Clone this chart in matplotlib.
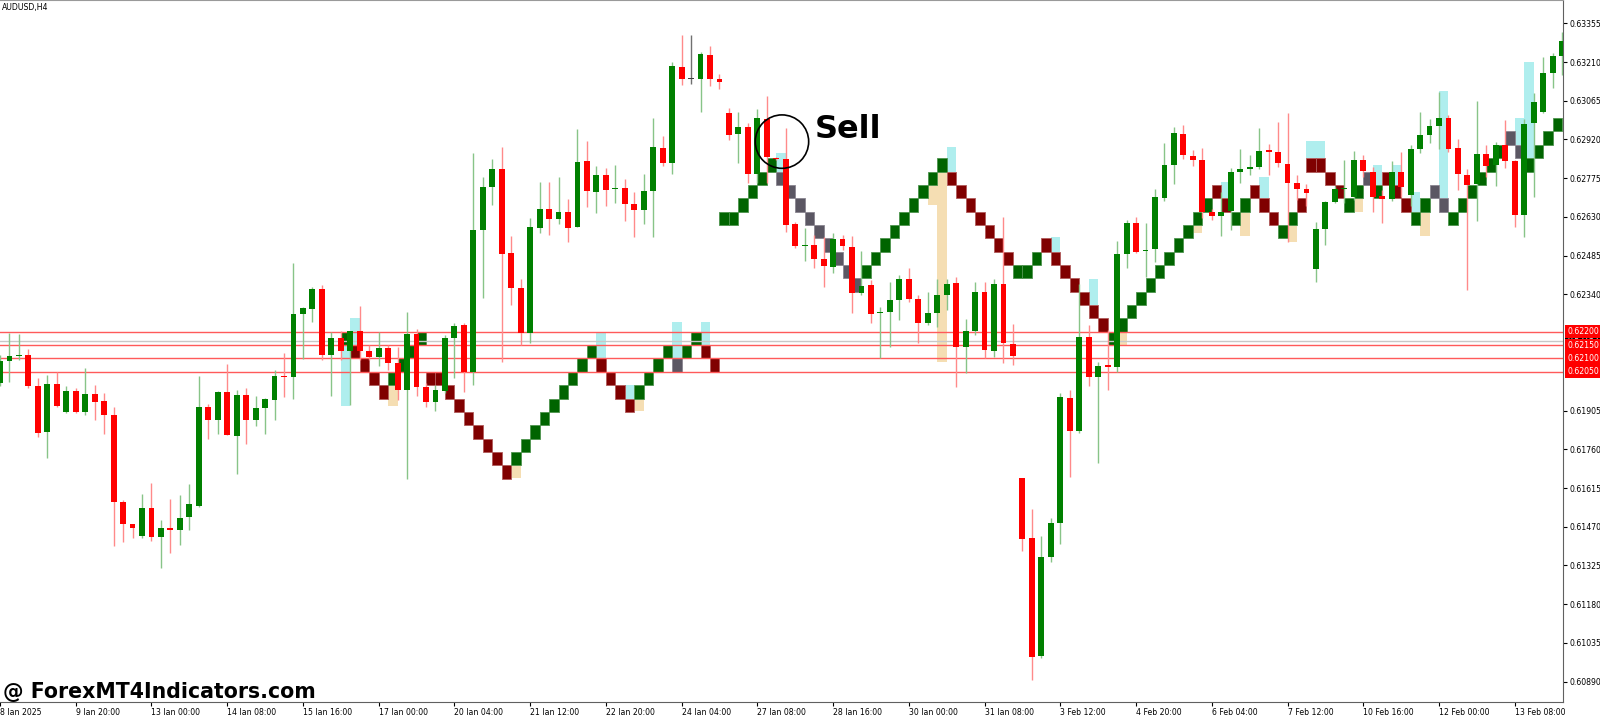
import matplotlib
matplotlib.use("Agg")
import matplotlib.pyplot as plt
from matplotlib.patches import Rectangle, Ellipse
from matplotlib.transforms import blended_transform_factory

# ---------------- data ----------------
opens = [0.62008,0.62091,0.62109,0.62113,0.61997,0.61825,0.62005,0.61900,0.61978,0.61900,
         0.61967,0.61941,0.61888,0.61563,0.61480,0.61435,0.61540,0.61432,0.61465,0.61458,
         0.61507,0.61548,0.61918,0.61870,0.61975,0.61810,0.61963,0.61870,0.61915,0.61945,
         0.62035,0.62031,0.62267,0.62285,0.62360,0.62113,0.62177,0.62128,0.62203,0.62128,
         0.62106,0.62139,0.62083,0.61982,0.62192,0.61993,0.61937,0.61978,0.62177,0.62225,
         0.62049,0.62581,0.62742,0.62810,0.62495,0.62364,0.62195,0.62589,0.62660,0.62622,
         0.62649,0.62592,0.62839,0.62723,0.62787,0.62735,0.62738,0.62678,0.62656,0.62727,
         0.62888,0.62832,0.63191,0.63146,0.63146,0.63236,0.63146,0.63019,0.62941,0.62967,
         0.62791,0.62997,0.62851,0.62847,0.62604,0.62521,0.62525,0.62473,0.62443,0.62547,
         0.62517,0.62345,0.62375,0.62270,0.62274,0.62319,0.62398,0.62323,0.62233,0.62270,
         0.62338,0.62383,0.62143,0.62203,0.62349,0.62128,0.62379,0.62154,0.61653,0.61428,
         0.60986,0.61357,0.61484,0.61952,0.61829,0.62181,0.62031,0.62076,0.62068,0.62491,
         0.62607,0.62502,0.62510,0.62701,0.62824,0.62941,0.62858,0.62843,0.62649,0.62634,
         0.62652,0.62798,0.62810,0.62817,0.62881,0.62873,0.62828,0.62757,0.62735,0.62435,
         0.62585,0.62686,0.62735,0.62705,0.62843,0.62798,0.62708,0.62697,0.62798,0.62712,
         0.62884,0.62937,0.62971,0.63000,0.62888,0.62787,0.62753,0.62866,0.62824,0.62899,
         0.62839,0.62637,0.62982,0.63023,0.63169,0.63233]
highs = [0.62113,0.62195,0.62192,0.62136,0.62027,0.62038,0.62049,0.61997,0.61990,0.62064,
         0.62001,0.61971,0.61918,0.61570,0.61480,0.61593,0.61634,0.61495,0.61574,0.61589,
         0.61630,0.62035,0.61930,0.61978,0.62079,0.61982,0.61990,0.61960,0.61952,0.62057,
         0.62121,0.62458,0.62293,0.62368,0.62375,0.62199,0.62203,0.62203,0.62297,0.62151,
         0.62199,0.62151,0.62143,0.62274,0.62210,0.62008,0.62001,0.62188,0.62233,0.62233,
         0.62869,0.62780,0.62847,0.62892,0.62559,0.62398,0.62626,0.62761,0.62761,0.62780,
         0.62697,0.62959,0.62914,0.62821,0.62813,0.62824,0.62772,0.62723,0.62791,0.63000,
         0.62933,0.63210,0.63311,0.63311,0.63248,0.63270,0.63165,0.63038,0.63023,0.62982,
         0.63034,0.63083,0.62854,0.62963,0.62611,0.62589,0.62562,0.62555,0.62570,0.62562,
         0.62559,0.62502,0.62394,0.62293,0.62386,0.62413,0.62439,0.62338,0.62349,0.62398,
         0.62398,0.62405,0.62248,0.62386,0.62386,0.62398,0.62630,0.62229,0.61653,0.61537,
         0.61435,0.61503,0.61971,0.61982,0.62379,0.62225,0.62087,0.62207,0.62540,0.62619,
         0.62630,0.62607,0.62735,0.62907,0.62967,0.62974,0.62881,0.62888,0.62660,0.62723,
         0.62813,0.62884,0.62862,0.62963,0.62903,0.62985,0.63019,0.62787,0.62753,0.62611,
         0.62690,0.62746,0.62843,0.62877,0.62862,0.62817,0.62731,0.62839,0.62873,0.62899,
         0.63023,0.62997,0.63098,0.63012,0.62922,0.62810,0.63064,0.62899,0.62911,0.62993,
         0.62843,0.62997,0.63094,0.63229,0.63244,0.63322]
lows = [0.61997,0.62012,0.62094,0.61990,0.61806,0.61727,0.61918,0.61896,0.61896,0.61888,
        0.61870,0.61817,0.61398,0.61413,0.61428,0.61428,0.61417,0.61316,0.61372,0.61402,
        0.61458,0.61544,0.61799,0.61817,0.61814,0.61668,0.61780,0.61847,0.61817,0.61870,
        0.61956,0.61948,0.62098,0.62237,0.62094,0.61960,0.62094,0.61926,0.62094,0.62094,
        0.62072,0.62057,0.61945,0.61649,0.61960,0.61918,0.61903,0.61971,0.62027,0.61975,
        0.62001,0.62327,0.62675,0.62087,0.62300,0.62151,0.62158,0.62570,0.62562,0.62604,
        0.62536,0.62592,0.62667,0.62645,0.62671,0.62682,0.62615,0.62555,0.62604,0.62555,
        0.62821,0.62791,0.63124,0.63128,0.63023,0.63120,0.63109,0.62918,0.62832,0.62757,
        0.62757,0.62757,0.62843,0.62574,0.62514,0.62465,0.62439,0.62368,0.62420,0.62506,
        0.62270,0.62338,0.62233,0.62102,0.62143,0.62244,0.62312,0.62158,0.62225,0.62218,
        0.62282,0.61993,0.62046,0.62188,0.62102,0.62106,0.62083,0.62076,0.61379,0.60896,
        0.60979,0.61338,0.61406,0.61656,0.61821,0.61997,0.61709,0.61982,0.62049,0.62439,
        0.62495,0.62405,0.62461,0.62690,0.62753,0.62847,0.62821,0.62626,0.62619,0.62559,
        0.62581,0.62757,0.62787,0.62810,0.62787,0.62817,0.62536,0.62693,0.62671,0.62386,
        0.62525,0.62682,0.62682,0.62693,0.62780,0.62649,0.62607,0.62690,0.62705,0.62671,
        0.62869,0.62907,0.62884,0.62873,0.62731,0.62356,0.62615,0.62780,0.62746,0.62813,
        0.62592,0.62555,0.62705,0.63019,0.63113,0.63161]
closes = [0.62091,0.62109,0.62113,0.61997,0.61821,0.62005,0.61922,0.61978,0.61900,0.61967,
          0.61937,0.61888,0.61563,0.61480,0.61465,0.61540,0.61432,0.61465,0.61458,0.61503,
          0.61555,0.61918,0.61870,0.61975,0.61814,0.61963,0.61870,0.61915,0.61948,0.62035,
          0.62031,0.62267,0.62289,0.62360,0.62113,0.62177,0.62128,0.62203,0.62128,0.62106,
          0.62139,0.62083,0.61982,0.62192,0.61993,0.61937,0.61982,0.62177,0.62222,0.62049,
          0.62581,0.62742,0.62810,0.62491,0.62364,0.62195,0.62592,0.62660,0.62622,0.62649,
          0.62589,0.62836,0.62727,0.62787,0.62731,0.62738,0.62678,0.62656,0.62727,0.62892,
          0.62832,0.63195,0.63146,0.63146,0.63240,0.63146,0.63135,0.62937,0.62967,0.62791,
          0.63000,0.62854,0.62847,0.62600,0.62521,0.62523,0.62473,0.62446,0.62547,0.62521,
          0.62345,0.62371,0.62267,0.62274,0.62319,0.62398,0.62323,0.62233,0.62270,0.62338,
          0.62379,0.62143,0.62203,0.62349,0.62132,0.62379,0.62158,0.62109,0.61424,0.60982,
          0.61357,0.61484,0.61956,0.61829,0.62181,0.62031,0.62072,0.62068,0.62491,0.62607,
          0.62499,0.62506,0.62705,0.62824,0.62944,0.62862,0.62843,0.62649,0.62634,0.62649,
          0.62798,0.62810,0.62817,0.62877,0.62873,0.62832,0.62757,0.62735,0.62720,0.62585,
          0.62686,0.62735,0.62738,0.62843,0.62802,0.62705,0.62697,0.62798,0.62742,0.62884,
          0.62937,0.62971,0.63000,0.62884,0.62791,0.62750,0.62866,0.62821,0.62899,0.62839,
          0.62637,0.62978,0.63060,0.63169,0.63233,0.63289]

time_labels = ["8 Jan 2025", "9 Jan 20:00", "13 Jan 00:00", "14 Jan 08:00", "15 Jan 16:00",
               "17 Jan 00:00", "20 Jan 04:00", "21 Jan 12:00", "22 Jan 20:00", "24 Jan 04:00",
               "27 Jan 08:00", "28 Jan 16:00", "30 Jan 00:00", "31 Jan 08:00", "3 Feb 12:00",
               "4 Feb 20:00", "6 Feb 04:00", "7 Feb 12:00", "10 Feb 16:00", "12 Feb 00:00",
               "13 Feb 08:00"]
price_ticks = [0.63355, 0.63210, 0.63065, 0.62920, 0.62775, 0.62630, 0.62485, 0.62340,
               0.61905, 0.61760, 0.61615, 0.61470, 0.61325, 0.61180, 0.61035, 0.60890]

# renko bricks: bar index, brick low, kind (U up, D down, G weak down)
brick_idx = list(range(36, 166))
brick_low = [0.6215,0.6210,0.6205,0.6200,0.6195,0.6200,0.6205,0.6210,0.6215,0.6200,
             0.6200,0.6195,0.6190,0.6185,0.6180,0.6175,0.6170,0.6165,0.6170,0.6175,
             0.6180,0.6185,0.6190,0.6195,0.6200,0.6205,0.6210,0.6205,0.6200,0.6195,
             0.6190,0.6195,0.6200,0.6205,0.6210,0.6205,0.6210,0.6215,0.6210,0.6205,
             0.6260,0.6260,0.6265,0.6270,0.6275,0.6280,0.6275,0.6270,0.6265,0.6260,
             0.6255,0.6250,0.6245,0.6240,0.6235,0.6240,0.6245,0.6250,0.6255,0.6260,
             0.6265,0.6270,0.6275,0.6280,0.6275,0.6270,0.6265,0.6260,0.6255,0.6250,
             0.6245,0.6240,0.6240,0.6245,0.6250,0.6245,0.6240,0.6235,0.6230,0.6225,
             0.6220,0.6215,0.6220,0.6225,0.6230,0.6235,0.6240,0.6245,0.6250,0.6255,
             0.6260,0.6265,0.6270,0.6265,0.6260,0.6265,0.6270,0.6265,0.6260,0.6255,
             0.6260,0.6265,0.6280,0.6280,0.6275,0.6270,0.6265,0.6270,0.6275,0.6270,
             0.6275,0.6270,0.6265,0.6260,0.6265,0.6270,0.6265,0.6260,0.6265,0.6270,
             0.6275,0.6280,0.6285,0.6290,0.6285,0.6280,0.6285,0.6290,0.6295,0.6300]
brick_kind = list("UDDDDUUUUDDDDDDDDDUUUUUUUUUDDDDUUUUGUUDD"
                  "UUUUUUGGGGGGGGGUUUUUUUUUDDDDDDDUUUDDDDDD"
                  "DUUUUUUUUUUUDDUUDDDUUDDDDDUUGUDDDUUGGUUU"
                  "UUUGGUUUU")
brick_size = 0.0005

# brick shadows: bar index, low, high, kind (C above / T below)
shadow_idx  = [36, 37, 41, 54, 63, 66, 67, 71, 74, 82, 98, 99, 100, 111, 115, 118, 126,
               129, 131, 133, 136, 138, 139, 143, 145, 147, 149, 150, 152, 160, 161]
shadow_low  = [0.61924,0.62150,0.61922,0.61653,0.62100,0.61950,0.61905,0.62100,0.62150,0.62800,
               0.62675,0.62088,0.62800,0.62500,0.62300,0.62150,0.62571,0.62700,0.62560,0.62700,
               0.62537,0.62850,0.62850,0.62647,0.62750,0.62750,0.62650,0.62560,0.62700,0.62900,
               0.62850]
shadow_high = [0.62150,0.62250,0.62000,0.61700,0.62200,0.62000,0.61950,0.62235,0.62235,0.62870,
               0.62750,0.62800,0.62893,0.62555,0.62397,0.62200,0.62600,0.62762,0.62650,0.62781,
               0.62600,0.62914,0.62914,0.62700,0.62824,0.62824,0.62725,0.62650,0.63100,0.63000,
               0.63211]
shadow_kind = list("CCTTCCTCCCTTCCCTTCTCTCCTCCCTCCC")

level_lines = [0.62200, 0.62150, 0.62100, 0.62050]
level_labels = ["0.62200", "0.62150", "0.62100", "0.62050"]
ref_line = 0.62167
ref_label = "0.62167"

# ---------------- figure ----------------
W, H = 1600, 715
AX_R, AX_B = 1563.0, 701.5
fig = plt.figure(figsize=(W / 100, H / 100), dpi=100)
fig.patch.set_facecolor("white")
ax = fig.add_axes([0, 1 - AX_B / H, AX_R / W, AX_B / H])
ax.set_facecolor("white")

PX = 9.47
ax.set_xlim(0.5 / PX, (AX_R + 0.5) / PX)
ax.set_ylim(0.608158, 0.634422)

UP_C, DN_C, DOJI_C = "#008000", "#ff0000", "#404040"
UP_W, DN_W = "#88c488", "#ff8a8a"
BRICK_C = {"U": "#006400", "D": "#800000", "G": "#5b5763"}
BRICK_E = {"U": "#4d944d", "D": "#b05a5a", "G": "#8a8690"}
SHADOW_C = {"C": "#afeeee", "T": "#f5deb3"}

# shadows
for i, lo, hi, k in zip(shadow_idx, shadow_low, shadow_high, shadow_kind):
    ax.add_patch(Rectangle((i, lo), 1, hi - lo, facecolor=SHADOW_C[k],
                           edgecolor="none", zorder=1))
# bricks
for i, lo, k in zip(brick_idx, brick_low, brick_kind):
    ax.add_patch(Rectangle((i, lo), 1, brick_size, facecolor=BRICK_C[k],
                           edgecolor=BRICK_E[k], linewidth=0.6, zorder=2))

# horizontal levels
ax.axhline(ref_line, color="#c8c8c8", lw=1, zorder=2.4)
for lv in level_lines:
    ax.axhline(lv, color="#ff5a5a", lw=1, zorder=2.5)

# candles
BW = 0.62
min_h = 0.00004
for i, (o, h, l, c) in enumerate(zip(opens, highs, lows, closes)):
    if c > o:
        col, wcol = UP_C, UP_W
    elif c < o:
        col, wcol = DN_C, DN_W
    else:
        col, wcol = DOJI_C, "#707070"
    ax.vlines(i, l, h, color=wcol, lw=1, zorder=3)
    bot = min(o, c)
    ht = max(abs(c - o), min_h)
    ax.add_patch(Rectangle((i - BW / 2, bot), BW, ht, facecolor=col,
                           edgecolor="none", zorder=3.5))

# axes styling
for s in ["left"]:
    ax.spines[s].set_visible(False)
ax.spines["top"].set_color("#9a9a9a")
ax.spines["right"].set_color("#606060")
ax.spines["bottom"].set_color("#606060")
ax.yaxis.tick_right()
ax.set_yticks(price_ticks)
ax.set_yticklabels([f"{t:.5f}" for t in price_ticks])
ax.tick_params(axis="y", length=3, pad=2, labelsize=5.6, colors="#000000")
ax.set_xticks(list(range(0, 8 * len(time_labels), 8)))
ax.set_xticklabels(time_labels)
ax.tick_params(axis="x", length=3, pad=1.5, labelsize=5.6, colors="#000000")
for lab in ax.get_xticklabels():
    lab.set_ha("left")

# right-side price tags
tr = blended_transform_factory(ax.transAxes, ax.transData)
ax.text(1 + 4 / AX_R, ref_line, ref_label, transform=tr, ha="left", va="center",
        fontsize=5.6, color="white", clip_on=False, zorder=5,
        bbox=dict(boxstyle="square,pad=0.25", fc="black", ec="none"))
for lv, lb in zip(level_lines, level_labels):
    ax.text(1 + 4 / AX_R, lv, lb, transform=tr, ha="left", va="center",
            fontsize=5.6, color="white", clip_on=False, zorder=6,
            bbox=dict(boxstyle="square,pad=0.25", fc="#ff0000", ec="none"))

# annotations
ax.add_patch(Ellipse((82.6, 0.62912), 5.64, 0.0020, fill=False, ec="black",
                     lw=1.2, zorder=6))
ax.text(86.1, 0.62924, "Sell", fontsize=23, fontweight="bold", color="black",
        family="DejaVu Sans", va="baseline", ha="left", zorder=6)

fig.text(2 / W, 1 - 3 / H, "AUDUSD,H4", fontsize=5.6, va="top", ha="left", color="black")
fig.text(3 / W, 1 - 698.5 / H, "@ ForexMT4Indicators.com", fontsize=14.8,
         fontweight="bold", family="DejaVu Sans", va="baseline", ha="left", color="black")

fig.savefig("out.png", dpi=100, facecolor="white")
